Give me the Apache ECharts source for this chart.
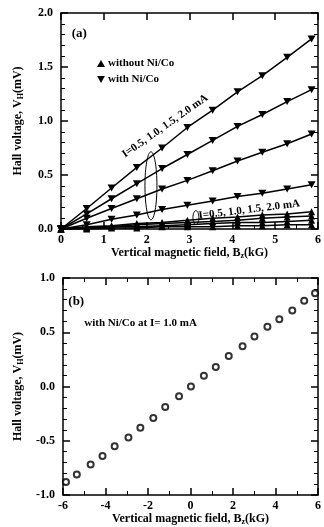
<!DOCTYPE html>
<html><head><meta charset="utf-8">
<script src="https://cdn.jsdelivr.net/npm/echarts@6/dist/echarts.min.js"></script>
<style>html,body{margin:0;padding:0;background:#fff}#c{width:324px;height:527px}</style>
</head><body><div id="c"></div>
<script>
// ---------- Data ----------
const fieldA = [0, 0.6, 1.18, 1.77, 2.36, 2.95, 3.54, 4.12, 4.7, 5.28, 5.85];
const withNiCo20 = [0, 0.19, 0.38, 0.57, 0.75, 0.94, 1.10, 1.27, 1.42, 1.59, 1.76];
const withNiCo15 = [0, 0.14, 0.28, 0.42, 0.56, 0.69, 0.82, 0.95, 1.06, 1.18, 1.29];
const withNiCo10 = [0, 0.10, 0.19, 0.28, 0.37, 0.45, 0.54, 0.63, 0.71, 0.79, 0.88];
const withNiCo05 = [0, 0.04, 0.09, 0.13, 0.18, 0.22, 0.26, 0.30, 0.33, 0.37, 0.41];
const withoutNiCo20 = [0, 0.02, 0.03, 0.05, 0.06, 0.08, 0.10, 0.11, 0.13, 0.14, 0.16];
const withoutNiCo15 = [0, 0.01, 0.02, 0.04, 0.05, 0.06, 0.07, 0.08, 0.10, 0.11, 0.12];
const withoutNiCo10 = [0, 0.01, 0.02, 0.02, 0.03, 0.04, 0.05, 0.06, 0.06, 0.07, 0.08];
const withoutNiCo05 = [0, 0.00, 0.01, 0.01, 0.02, 0.02, 0.02, 0.03, 0.03, 0.04, 0.04];

const fieldB = [-5.86, -5.35, -4.70, -4.14, -3.57, -2.92, -2.36, -1.75, -1.19, -0.54, 0.02,
                0.63, 1.19, 1.80, 2.45, 3.01, 3.62, 4.18, 4.79, 5.35, 5.86];
const voltB = [-0.88, -0.81, -0.72, -0.64, -0.55, -0.47, -0.38, -0.29, -0.19, -0.09, 0.0,
               0.10, 0.18, 0.28, 0.37, 0.46, 0.55, 0.62, 0.70, 0.79, 0.86];

const currentLabel = 'I=0.5, 1.0, 1.5, 2.0 mA';
const xTitleA = 'Vertical magnetic field, B';
const yTitle = 'Hall voltage, V';

// ---------- Chart ----------
const FONT = 'Liberation Serif';
const chart = echarts.init(document.getElementById('c'), null, {renderer: 'canvas'});
const pair = (xs, ys) => xs.map((x, i) => [x, ys[i]]);
const lblStyle = {fontFamily: FONT, fontWeight: 'bold', fontSize: 12, color: '#000'};
const axLine = {lineStyle: {color: '#000', width: 1.5}};

function mkX(grid, pos, min, max, interval, minorSplit, showLabel, name) {
  return {
    type: 'value', gridIndex: grid, position: pos, min, max, interval,
    axisLine: Object.assign({onZero: false, show: true}, axLine),
    axisTick: {show: true, inside: true, length: 7, lineStyle: {color: '#000', width: 1.5}},
    minorTick: {show: minorSplit > 0, splitNumber: minorSplit || 5, length: 4, lineStyle: {color: '#000', width: 1}},
    splitLine: {show: false},
    axisLabel: Object.assign({show: showLabel, margin: 5, formatter: v => String(Math.round(v))}, lblStyle),
    name: name ? '{t|' + xTitleA + '}{s|z}{t|(kG)}' : '',
    nameLocation: 'middle', nameGap: 17,
    nameTextStyle: {rich: {
      t: {fontFamily: FONT, fontWeight: 'bold', fontSize: 12, color: '#000'},
      s: {fontFamily: FONT, fontWeight: 'bold', fontSize: 8, color: '#000', verticalAlign: 'bottom', padding: [6, 0, 0, 0]}
    }}
  };
}
function mkY(grid, pos, min, max, showLabel, name) {
  return {
    type: 'value', gridIndex: grid, position: pos, min, max, interval: 0.5,
    axisLine: Object.assign({onZero: false, show: true}, axLine),
    axisTick: {show: true, inside: true, length: 7, lineStyle: {color: '#000', width: 1.5}},
    minorTick: {show: true, splitNumber: 5, length: 4, lineStyle: {color: '#000', width: 1}},
    splitLine: {show: false},
    axisLabel: Object.assign({show: showLabel, margin: 8, formatter: v => v.toFixed(1)}, lblStyle),
    name: name ? '{t|' + yTitle + '}{s|H}{t|(mV)}' : '',
    nameLocation: 'middle', nameGap: 36, nameRotate: 90,
    nameTextStyle: {rich: {
      t: {fontFamily: FONT, fontWeight: 'bold', fontSize: 12, color: '#000'},
      s: {fontFamily: FONT, fontWeight: 'bold', fontSize: 8, color: '#000', padding: [6, 0, 0, 0]}
    }}
  };
}

const downTri = 'path://M0,0L10,0L5,9Z';
function withSeries(vals) {
  return {type: 'line', name: 'with Ni/Co', xAxisIndex: 0, yAxisIndex: 0,
    data: pair(fieldA, vals), symbol: downTri, symbolSize: [8, 7],
    lineStyle: {color: '#000', width: 1.5}, itemStyle: {color: '#000'}, z: 3};
}
function withoutSeries(vals) {
  return {type: 'line', name: 'without Ni/Co', xAxisIndex: 0, yAxisIndex: 0,
    data: pair(fieldA, vals), symbol: 'triangle', symbolSize: [7, 7],
    lineStyle: {color: '#000', width: 1.5}, itemStyle: {color: '#000'}, z: 3};
}

const option = {
  animation: false,
  backgroundColor: '#fff',
  grid: [
    {left: 61, right: 4, top: 13, height: 216},
    {left: 63, right: 2, top: 278, height: 219}
  ],
  xAxis: [
    mkX(0, 'bottom', 0, 6, 1, 2, true, true),
    mkX(0, 'top', 0, 6, 1, 0, false, false),
    mkX(1, 'bottom', -6, 6, 2, 2, true, true),
    mkX(1, 'top', -6, 6, 2, 2, false, false)
  ],
  yAxis: [
    mkY(0, 'left', 0, 2, true, true),
    mkY(0, 'right', 0, 2, false, false),
    mkY(1, 'left', -1, 1, true, true),
    mkY(1, 'right', -1, 1, false, false)
  ],
  legend: {
    orient: 'vertical', left: 92, top: 53, itemWidth: 8, itemHeight: 7, itemGap: 5,
    textStyle: {fontFamily: FONT, fontWeight: 'bold', fontSize: 11, color: '#000', padding: [0, 0, 0, -2]},
    data: [{name: 'without Ni/Co', icon: 'triangle'}, {name: 'with Ni/Co', icon: downTri}]
  },
  series: [
    withSeries(withNiCo20), withSeries(withNiCo15), withSeries(withNiCo10), withSeries(withNiCo05),
    withoutSeries(withoutNiCo20), withoutSeries(withoutNiCo15), withoutSeries(withoutNiCo10), withoutSeries(withoutNiCo05),
    {type: 'scatter', name: 'with Ni/Co at I= 1.0 mA', xAxisIndex: 2, yAxisIndex: 2,
     data: pair(fieldB, voltB), symbol: 'circle', symbolSize: 6,
     itemStyle: {color: '#fff', borderColor: '#000', borderWidth: 2}}
  ]
};
chart.setOption(option);

// ---------- Annotations (anchored through the axes) ----------
const pA = p => chart.convertToPixel({gridIndex: 0}, p);
const pB = p => chart.convertToPixel({gridIndex: 1}, p);
const tStyle = (sz) => ({fontFamily: FONT, fontWeight: 'bold', fontSize: sz, fill: '#000'});
const t1 = pA([1.53, 0.64]);
const t2 = pA([3.23, 0.07]);
const e1 = pA([2.1, 0.4]);
const e2 = pA([3.15, 0.105]);
const la = pA([0.25, 1.81]);
const lb = pB([-5.75, 0.78]);
const tb = pB([-5.0, 0.58]);
chart.setOption({graphic: [
  {type: 'text', x: la[0], y: la[1], style: Object.assign({text: '(a)', verticalAlign: 'middle'}, tStyle(13))},
  {type: 'text', x: lb[0], y: lb[1], style: Object.assign({text: '(b)', verticalAlign: 'middle'}, tStyle(13))},
  {type: 'text', x: tb[0], y: tb[1], style: Object.assign({text: 'with Ni/Co at I= 1.0 mA', verticalAlign: 'middle'}, tStyle(11))},
  {type: 'text', x: t1[0], y: t1[1], rotation: 35 * Math.PI / 180,
   style: Object.assign({text: currentLabel, verticalAlign: 'bottom'}, tStyle(11))},
  {type: 'text', x: t2[0], y: t2[1], rotation: 7 * Math.PI / 180,
   style: Object.assign({text: currentLabel, verticalAlign: 'bottom'}, tStyle(11))},
  {type: 'ellipse', shape: {cx: e1[0], cy: e1[1], rx: 6, ry: 34},
   style: {fill: 'none', stroke: '#000', lineWidth: 1}, z: 10},
  {type: 'ellipse', shape: {cx: e2[0], cy: e2[1], rx: 3, ry: 7},
   style: {fill: 'none', stroke: '#000', lineWidth: 1}, z: 10}
]});
</script>
</body></html>
